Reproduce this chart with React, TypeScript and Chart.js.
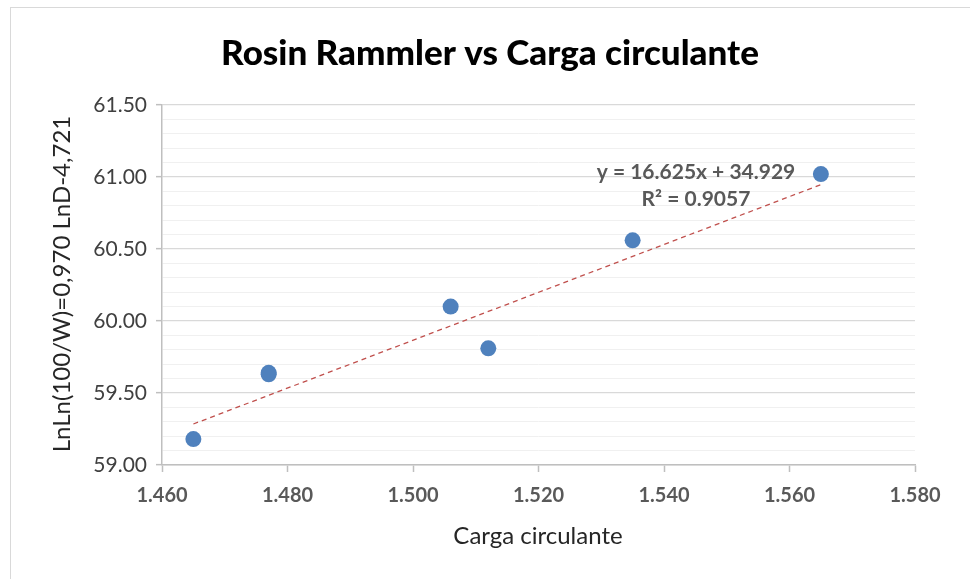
import React, { useEffect, useRef } from 'react';
import { Chart, registerables } from 'chart.js';

Chart.register(...registerables);

const TITLE = 'Rosin Rammler vs Carga circulante';
const X_TITLE = 'Carga circulante';
const Y_TITLE = 'LnLn(100/W)=0,970 LnD-4,721';

const cargaCirculante = [1.465, 1.477, 1.477, 1.506, 1.512, 1.535, 1.565];
const rosinRammler = [59.18, 59.64, 59.63, 60.1, 59.81, 60.56, 61.02];

const trendSlope = 16.625;
const trendIntercept = 34.929;
const EQ_LABEL = 'y = 16.625x + 34.929';
const R2_LABEL = 'R² = 0.9057';

const X_MIN = 1.46;
const X_MAX = 1.58;
const X_STEP = 0.02;
const Y_MIN = 59;
const Y_MAX = 61.5;
const Y_MAJOR = 0.5;
const Y_MINOR = 0.1;

const FONT = 'Lato, "Open Sans", "Noto Sans", sans-serif';

const isMajor = (v: number) => {
  const r = v / Y_MAJOR;
  return Math.abs(r - Math.round(r)) < 1e-6;
};

const textPlugin = {
  id: 'textPlugin',
  afterDraw(chart: any) {
    const ctx = chart.ctx;
    ctx.save();
    ctx.textAlign = 'center';
    ctx.textBaseline = 'middle';
    ctx.fillStyle = '#000000';
    ctx.font = `900 35px ${FONT}`;
    ctx.fillText(TITLE, 490, 54);

    ctx.fillStyle = '#262626';
    ctx.font = `24px ${FONT}`;
    ctx.fillText(X_TITLE, 538, 536);

    ctx.save();
    ctx.translate(62, 284);
    ctx.rotate(-Math.PI / 2);
    ctx.fillText(Y_TITLE, 0, 0);
    ctx.restore();

    ctx.fillStyle = '#595959';
    ctx.font = `bold 21px ${FONT}`;
    ctx.fillText(EQ_LABEL, 696, 172);
    ctx.fillText(R2_LABEL, 696, 199);
    ctx.restore();
  },
};

export default function App() {
  const ref = useRef<HTMLCanvasElement | null>(null);

  useEffect(() => {
    if (!ref.current) return;
    const xs = cargaCirculante;
    const tMin = Math.min(...xs);
    const tMax = Math.max(...xs);
    const trend = [tMin, tMax].map((x) => ({ x, y: trendSlope * x + trendIntercept }));

    const chart = new Chart(ref.current, {
      type: 'scatter',
      data: {
        datasets: [
          {
            label: 'Rosin Rammler',
            data: cargaCirculante.map((x, i) => ({ x, y: rosinRammler[i] })),
            backgroundColor: '#4F81BD',
            borderColor: '#4F81BD',
            pointRadius: 8,
            pointHoverRadius: 8,
            borderWidth: 0,
            order: 1,
          },
          {
            type: 'line',
            label: 'Trend',
            data: trend,
            borderColor: '#C0504D',
            borderWidth: 1.3,
            borderDash: [5, 4],
            pointRadius: 0,
            fill: false,
            showLine: true,
            order: 2,
          } as any,
        ],
      },
      options: {
        animation: false,
        responsive: false,
        maintainAspectRatio: false,
        layout: { padding: { left: 90, right: 55, top: 105, bottom: 0 } },
        plugins: {
          legend: { display: false },
          title: { display: false },
          tooltip: { enabled: false },
        },
        scales: {
          x: {
            type: 'linear',
            min: X_MIN,
            max: X_MAX,
            afterFit: (s: any) => {
              s.height = 579 - 465;
            },
            ticks: {
              stepSize: X_STEP,
              autoSkip: false,
              maxRotation: 0,
              padding: 12,
              color: '#595959',
              font: { family: FONT, size: 20, weight: 'bold' },
              callback: (v: any) => Number(v).toFixed(3),
            },
            grid: {
              drawOnChartArea: false,
              drawTicks: true,
              tickLength: 7,
              tickColor: '#bfbfbf',
              tickWidth: 1.5,
            },
            border: { color: '#bfbfbf', width: 1.5 },
          },
          y: {
            type: 'linear',
            min: Y_MIN,
            max: Y_MAX,
            afterFit: (s: any) => {
              s.width = 162 - 90;
            },
            ticks: {
              stepSize: Y_MINOR,
              autoSkip: false,
              padding: 9,
              color: '#404040',
              font: { family: FONT, size: 21 },
              callback: (v: any) => (isMajor(Number(v)) ? Number(v).toFixed(2) : ''),
            },
            grid: {
              color: (c: any) => (c.tick && isMajor(c.tick.value) ? '#d9d9d9' : '#f0f0f0'),
              lineWidth: (c: any) => (c.tick && isMajor(c.tick.value) ? 1.3 : 1),
              tickLength: 6,
              tickColor: (c: any) => (c.tick && isMajor(c.tick.value) ? '#bfbfbf' : 'rgba(0,0,0,0)'),
              tickWidth: 1.5,
            },
            border: { color: '#bfbfbf', width: 1.5 },
          },
        },
      },
      plugins: [textPlugin],
    });
    return () => chart.destroy();
  }, []);

  return (
    <div
      style={{
        position: 'fixed',
        left: 0,
        top: 0,
        width: 970,
        height: 579,
        overflow: 'hidden',
        background: '#ffffff',
      }}
    >
      <div
        style={{
          position: 'absolute',
          left: 10,
          top: 7,
          width: 1000,
          height: 1000,
          border: '1px solid #d9d9d9',
        }}
      />
      <canvas
        ref={ref}
        width={970}
        height={579}
        style={{ position: 'absolute', left: 0, top: 0, width: 970, height: 579 }}
      />
    </div>
  );
}
